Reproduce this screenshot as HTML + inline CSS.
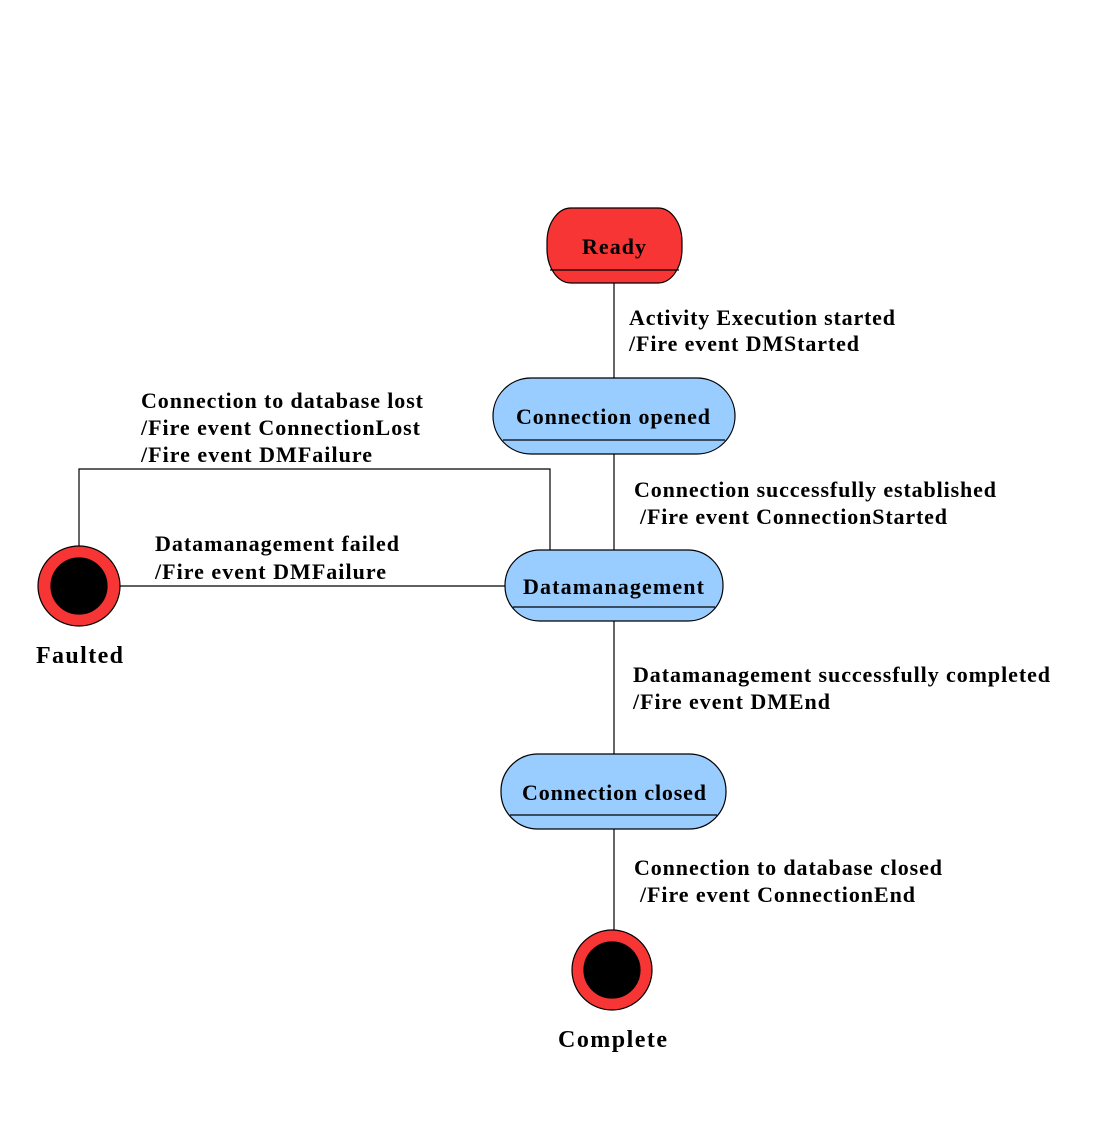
<!DOCTYPE html>
<html><head><meta charset="utf-8"><style>html,body{margin:0;padding:0;background:#fff}svg{display:block}</style></head>
<body>
<svg width="1096" height="1123" xmlns="http://www.w3.org/2000/svg" font-family="Liberation Serif, serif" font-weight="bold" font-size="22">
<rect width="1096" height="1123" fill="#fff"/>
<g stroke="#000" stroke-width="1.2" fill="none">
<line x1="614" y1="283" x2="614" y2="378"/>
<line x1="614" y1="454" x2="614" y2="550"/>
<line x1="614" y1="621" x2="614" y2="754"/>
<line x1="614" y1="829" x2="614" y2="930"/>
<polyline points="79,546 79,469 550,469 550,550"/>
<line x1="120" y1="586" x2="505" y2="586"/>
</g>
<g stroke="#000" stroke-width="1.2">
<rect x="547" y="208" width="135" height="75" rx="24" ry="34" fill="#f73535"/>
<line x1="550" y1="270" x2="679" y2="270"/>
<rect x="493" y="378" width="242" height="76" rx="38" ry="38" fill="#99ccff"/>
<line x1="503" y1="440" x2="725" y2="440"/>
<rect x="505" y="550" width="218" height="71" rx="35" ry="35" fill="#99ccff"/>
<line x1="513" y1="607" x2="715" y2="607"/>
<rect x="501" y="754" width="225" height="75" rx="37" ry="37" fill="#99ccff"/>
<line x1="510" y1="815" x2="717" y2="815"/>
<ellipse cx="79" cy="586" rx="41" ry="40" fill="#f73535"/>
<ellipse cx="79" cy="586" rx="28" ry="28" fill="#000"/>
<circle cx="612" cy="970" r="40" fill="#f73535"/>
<circle cx="612" cy="970" r="28" fill="#000"/>
</g>
<g fill="#000">
<text x="582" y="254" textLength="64">Ready</text>
<text x="516" y="424" textLength="194">Connection opened</text>
<text x="523" y="594" textLength="181">Datamanagement</text>
<text x="522" y="800" textLength="184">Connection closed</text>
<text x="629" y="325" textLength="266">Activity Execution started</text>
<text x="629" y="351" textLength="230">/Fire event DMStarted</text>
<text x="141" y="408" textLength="282">Connection to database lost</text>
<text x="141" y="435" textLength="279">/Fire event ConnectionLost</text>
<text x="141" y="462" textLength="231">/Fire event DMFailure</text>
<text x="634" y="497" textLength="362">Connection successfully established</text>
<text x="640" y="524" textLength="307">/Fire event ConnectionStarted</text>
<text x="155" y="551" textLength="244">Datamanagement failed</text>
<text x="155" y="579" textLength="231">/Fire event DMFailure</text>
<text x="633" y="682" textLength="417">Datamanagement successfully completed</text>
<text x="633" y="709" textLength="197">/Fire event DMEnd</text>
<text x="634" y="875" textLength="308">Connection to database closed</text>
<text x="640" y="902" textLength="275">/Fire event ConnectionEnd</text>
<text x="36" y="663" font-size="24" textLength="87">Faulted</text>
<text x="558" y="1047" font-size="24" textLength="109">Complete</text>
</g>
</svg>
</body></html>
